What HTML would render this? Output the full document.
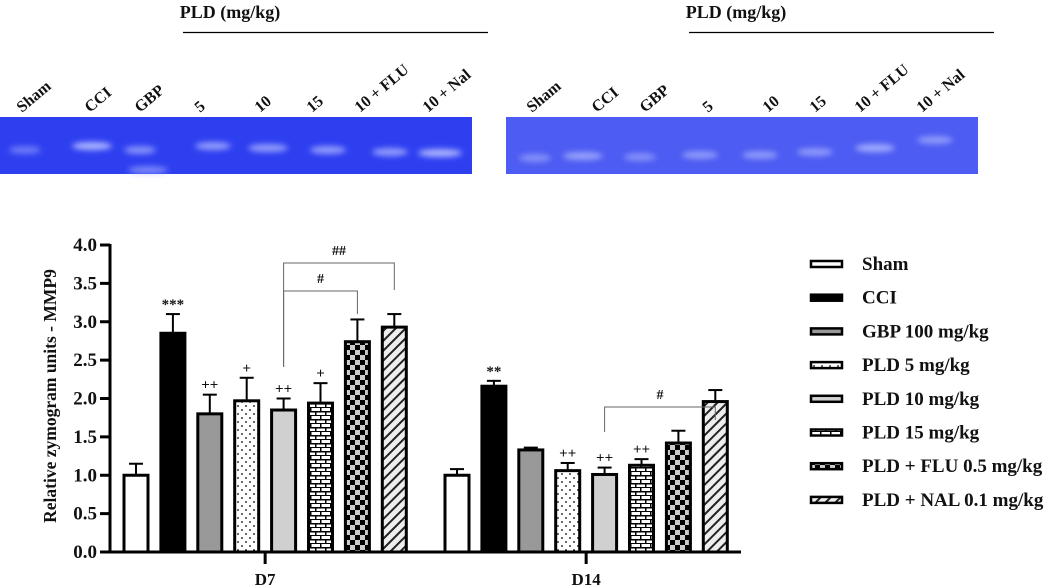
<!DOCTYPE html>
<html><head><meta charset="utf-8"><style>
body{margin:0;background:#fff;width:1052px;height:588px;overflow:hidden;font-family:"Liberation Serif",serif;}
svg{display:block}
text{font-family:"Liberation Serif",serif;font-weight:bold;fill:#111}
</style></head><body>
<svg id="c" width="1052" height="588">
<defs>
<filter id="bl" x="-50%" y="-100%" width="200%" height="300%"><feGaussianBlur stdDeviation="3"/></filter>
<pattern id="pDots" width="8" height="8" patternUnits="userSpaceOnUse"><rect width="8" height="8" fill="#fff"/><circle cx="2" cy="2" r="0.9" fill="#000"/><circle cx="6" cy="6" r="0.9" fill="#000"/></pattern>
<pattern id="pBrick" width="10" height="8" patternUnits="userSpaceOnUse"><rect width="10" height="8" fill="#fff"/><rect y="3" width="10" height="1.5" fill="#000"/><rect y="7" width="10" height="1.5" fill="#000"/><rect x="0" y="0" width="1.5" height="4" fill="#000"/><rect x="5" y="4" width="1.5" height="4" fill="#000"/></pattern>
<pattern id="pCheck" width="10" height="10" patternUnits="userSpaceOnUse"><rect width="10" height="10" fill="#ccc"/><rect width="5" height="5" fill="#000"/><rect x="5" y="5" width="5" height="5" fill="#000"/></pattern>
<pattern id="pHatch" width="7" height="7" patternUnits="userSpaceOnUse" patternTransform="rotate(45)"><rect width="7" height="7" fill="#eee"/><rect width="2" height="7" fill="#222"/></pattern>
</defs>
<g id="gels"></g>
<g id="chart"></g>
<g id="legend"></g>
</svg>
<script>
const groups=["D7","D14"];
const seriesNames=["Sham","CCI","GBP 100 mg/kg","PLD 5 mg/kg","PLD 10 mg/kg","PLD 15 mg/kg","PLD + FLU 0.5 mg/kg","PLD + NAL 0.1 mg/kg"];
const d7Values=[1.0,2.85,1.8,1.97,1.85,1.94,2.74,2.93];
const d7Errors=[0.15,0.25,0.25,0.3,0.15,0.26,0.29,0.17];
const d14Values=[1.0,2.16,1.33,1.06,1.01,1.13,1.42,1.96];
const d14Errors=[0.08,0.07,0.03,0.1,0.09,0.08,0.16,0.15];
const d7Marks=["","***","++","+","++","+","",""];
const d14Marks=["","**","","++","++","++","",""];
const yTicks=[0,0.5,1,1.5,2,2.5,3,3.5,4];
const laneLabels=["Sham","CCI","GBP","5","10","15","10 + FLU","10 + Nal"];

const NS="http://www.w3.org/2000/svg";
function mk(tag,attrs,parent,txt){const e=document.createElementNS(NS,tag);for(const k in attrs)e.setAttribute(k,attrs[k]);if(txt!==undefined)e.textContent=txt;parent.appendChild(e);return e;}
const fills=["#fff","#000","#999","url(#pDots)","#d0d0d0","url(#pBrick)","url(#pCheck)","url(#pHatch)"];
const y0=552, yTop=245, yMax=4;
function yS(v){return y0-(v/yMax)*(y0-yTop);}
const groupStart=[136,457], step=36.9, bw=24;
function xS(g,i){return groupStart[g]+i*step;}

// gels
const gg=document.getElementById('gels');
function gel(x0,w,col,bands,labelsX,plX){
  const r=mk('rect',{x:x0,y:117,width:w,height:57,fill:col},gg);
  
  bands.forEach(b=>{mk('ellipse',{cx:b[0],cy:b[1],rx:b[2],ry:4,fill:'#aab4ff',opacity:b[3],filter:'url(#bl)'},gg);});
  labelsX.forEach((lx,i)=>{const t=mk('text',{x:lx,y:113,'font-size':16,transform:`rotate(-40 ${lx} 113)`},gg,laneLabels[i]);});
  const t=mk('text',{x:plX,y:18,'font-size':18,'text-anchor':'middle'},gg,'PLD (mg/kg)');
}
gel(0,472,'#2e3ff0',[[25,150,16,0.5],[92,146,20,1],[140,150,16,0.7],[148,170,20,0.6],[213,146,18,0.8],[268,148,20,0.8],[328,150,18,0.8],[390,152,18,0.8],[440,153,22,1]],[22,90,140,200,260,312,360,428],230);
mk('line',{x1:183,x2:488,y1:32.5,y2:32.5,stroke:'#000','stroke-width':1.2},gg);
gel(506,472,'#4d5cf2',[[535,158,16,0.6],[583,156,20,0.8],[640,157,16,0.6],[700,155,18,0.7],[760,155,18,0.7],[815,152,18,0.7],[875,148,20,0.9],[935,140,18,0.7]],[532,597,645,708,768,815,860,922],736);
mk('line',{x1:689,x2:994,y1:32.5,y2:32.5,stroke:'#000','stroke-width':1.2},gg);

// chart
const ch=document.getElementById('chart');
const yAxis=mk('line',{x1:110,x2:110,y1:244,y2:553,stroke:'#000','stroke-width':3},ch);

const xAxis=mk('line',{x1:109,x2:741,y1:552,y2:552,stroke:'#000','stroke-width':3},ch);

yTicks.forEach(v=>{mk('line',{x1:100,x2:110,y1:yS(v),y2:yS(v),stroke:'#000','stroke-width':3},ch);
  const t=mk('text',{x:97,y:yS(v)+6,'font-size':19,'text-anchor':'end'},ch,v.toFixed(1));});
const yt=mk('text',{x:56,y:396,'font-size':17.5,'text-anchor':'middle',transform:'rotate(-90 56 396)'},ch,'Relative zymogram units - MMP9');

[d7Values,d14Values].forEach((vals,g)=>{
  const errs=g?d14Errors:d7Errors, marks=g?d14Marks:d7Marks;
  const cx=(xS(g,3)+xS(g,4))/2;
  mk('line',{x1:cx,x2:cx,y1:552,y2:564,stroke:'#000','stroke-width':3},ch);
  const gl=mk('text',{x:cx,y:585,'font-size':17,'text-anchor':'middle'},ch,groups[g]);
  vals.forEach((v,i)=>{
    const x=xS(g,i), top=yS(v), et=yS(v+errs[i]);
    mk('line',{x1:x,x2:x,y1:et,y2:top,stroke:'#000','stroke-width':2},ch);
    mk('line',{x1:x-7,x2:x+7,y1:et,y2:et,stroke:'#000','stroke-width':2},ch);
    const b=mk('rect',{x:x-bw/2,y:top,width:bw,height:552-top,fill:fills[i],stroke:'#000','stroke-width':3},ch);
    
    if(marks[i]){const m=mk('text',{x:x,y:et-5,'font-size':15,'font-weight':'normal','text-anchor':'middle'},ch,marks[i]);}
  });
});
function bracket(g,i1,i2,y,l1,l2,lab){
  const x1=xS(g,i1),x2=xS(g,i2);
  const p=mk('path',{d:`M${x1},${l1}V${y}H${x2}V${l2}`,fill:'none',stroke:'#666','stroke-width':1},ch);
  
  mk('text',{x:(x1+x2)/2,y:y-8,'font-size':14,'font-weight':'normal','text-anchor':'middle'},ch,lab);
}
bracket(0,4,7,263,367,290,'##');
bracket(0,4,6,291,367,314,'#');
bracket(1,4,7,407,432,420,'#');

// legend
const lg=document.getElementById('legend');
seriesNames.forEach((n,i)=>{
  const y=264+i*33.7;
  const s=mk('rect',{x:811,y:y-3,width:31,height:6,fill:fills[i],stroke:'#000','stroke-width':2.5},lg);
  
  const t=mk('text',{x:862,y:y+6,'font-size':19},lg,n);
});
</script>
</body></html>
